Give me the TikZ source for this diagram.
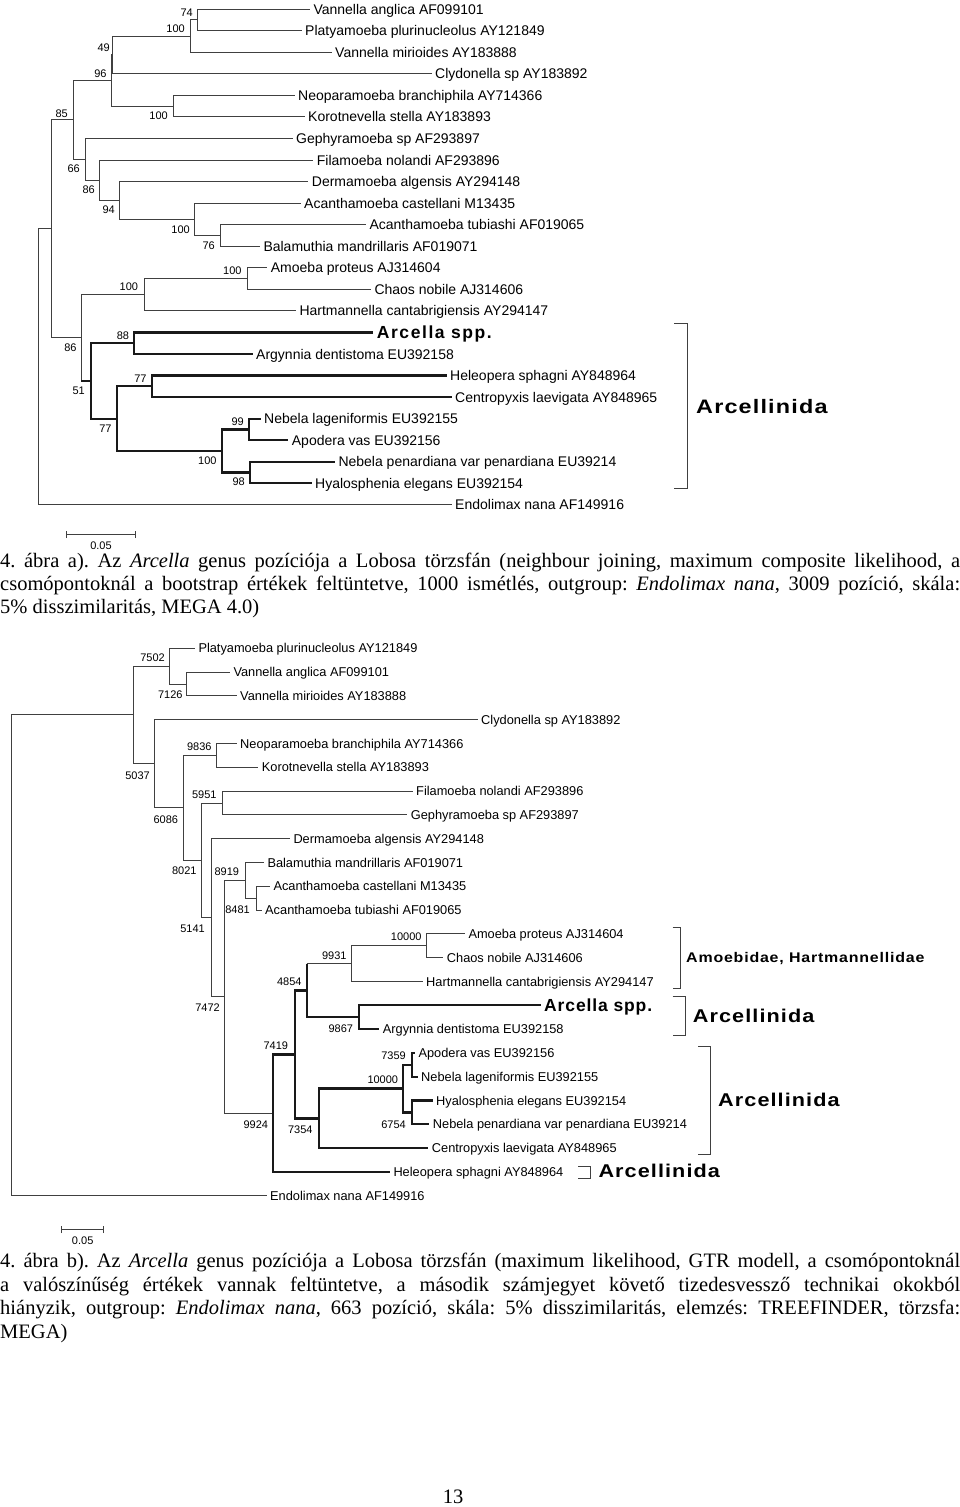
\documentclass[tikz,border=0pt]{standalone}
\usepackage{graphicx}
\usepackage{fontspec}
\setmainfont{Liberation Serif}
\newfontfamily\arialf{Liberation Sans}
\newcommand{\bflab}[3]{{\arialf\bfseries\fontsize{#1}{#1}\selectfont\addfontfeature{LetterSpace=#2}#3}}
\newcommand{\widelab}[4]{\scalebox{#4}[1]{\bflab{#1}{#2}{#3}}}
\frenchspacing
\begin{document}
\begin{tikzpicture}[x=1pt,y=-1pt,
  tline/.style={line width=1pt, draw=black!75},
  bline/.style={line width=2.3pt, draw=black!90},
  tipA/.style={anchor=west, inner xsep=3.5pt, inner ysep=0pt, xshift=-3.5pt, font=\arialf\fontsize{14}{16}\selectfont, text height=10pt, text depth=0pt},
  tipB/.style={anchor=west, inner xsep=3.5pt, inner ysep=0pt, xshift=-3.5pt, font=\arialf\fontsize{12.8}{15}\selectfont, text height=9.2pt, text depth=0pt},
  bsA/.style={anchor=east, inner sep=0pt, font=\arialf\fontsize{11}{13}\selectfont, text height=8pt, text depth=0pt},
  bsB/.style={anchor=east, inner sep=0pt, font=\arialf\fontsize{11}{13}\selectfont, text height=8pt, text depth=0pt},
  grp/.style={anchor=west, inner sep=0pt, text depth=0pt},
  capline/.style={anchor=base west, inner sep=0pt, font=\fontsize{20.5}{23.5}\selectfont}
]
\useasboundingbox (0,0) rectangle (960,1507);
\fill[white] (0,0) rectangle (960,1507);

% ================= TOP TREE =================
\coordinate (tR) at (38,366.88);
\coordinate (tX) at (51,228.91);
\coordinate (t85) at (73.3,119.98);
\coordinate (t96) at (111,80.58);
\coordinate (t49) at (112.3,54.99);
\coordinate (t100a) at (190,36.14);
\coordinate (t74) at (197.3,19.98);
\coordinate (tNK) at (173.3,106.18);
\coordinate (t66) at (85,159.38);
\coordinate (t86a) at (99.3,180.25);
\coordinate (t94) at (119.3,200.46);
\coordinate (t100b) at (194,219.31);
\coordinate (t76) at (220,235.48);
\coordinate (t86b) at (81,337.84);
\coordinate (tACH) at (144,294.74);
\coordinate (tAC) at (247.7,278.58);
\coordinate (t51) at (90.7,380.94);
\coordinate (t88) at (134.3,343.23);
\coordinate (t77b) at (116.7,418.65);
\coordinate (t77a) at (151.7,386.33);
\coordinate (t100c) at (221.7,450.98);
\coordinate (t99) at (249.3,429.43);
\coordinate (t98) at (250,472.53);

\node[tipA] (VA) at (313.3,9.2) {Vannella anglica AF099101};
\node[tipA] (PL) at (305,30.75) {Platyamoeba plurinucleolus AY121849};
\node[tipA] (VM) at (335,52.3) {Vannella mirioides AY183888};
\node[tipA] (CL) at (435,73.85) {Clydonella sp AY183892};
\node[tipA] (NE) at (298,95.4) {Neoparamoeba branchiphila AY714366};
\node[tipA] (KO) at (308,116.95) {Korotnevella stella AY183893};
\node[tipA] (GE) at (296,138.5) {Gephyramoeba sp AF293897};
\node[tipA] (FI) at (316.7,160.05) {Filamoeba nolandi AF293896};
\node[tipA] (DE) at (311.7,181.6) {Dermamoeba algensis AY294148};
\node[tipA] (AC) at (304,203.15) {Acanthamoeba castellani M13435};
\node[tipA] (AT) at (369.3,224.7) {Acanthamoeba tubiashi AF019065};
\node[tipA] (BA) at (263.3,246.25) {Balamuthia mandrillaris AF019071};
\node[tipA] (AP) at (270.7,267.8) {Amoeba proteus AJ314604};
\node[tipA] (CH) at (374.3,289.35) {Chaos nobile AJ314606};
\node[tipA] (HA) at (299.3,310.9) {Hartmannella cantabrigiensis AY294147};
\node[tipA, text height=12.6pt] (AR) at (376.7,332.45) {\bflab{17.5}{9}{Arcella spp.}};
\node[tipA] (AG) at (256,354) {Argynnia dentistoma EU392158};
\node[tipA] (HE) at (450,375.55) {Heleopera sphagni AY848964};
\node[tipA] (CE) at (455,397.1) {Centropyxis laevigata AY848965};
\node[tipA] (NL) at (264,418.65) {Nebela lageniformis EU392155};
\node[tipA] (AV) at (291.7,440.2) {Apodera vas EU392156};
\node[tipA] (NP) at (338.3,461.75) {Nebela penardiana var penardiana EU39214};
\node[tipA] (HY) at (315,483.3) {Hyalosphenia elegans EU392154};
\node[tipA] (EN) at (455,504.85) {Endolimax nana AF149916};

\draw[tline] (tR) |- (tX);
\draw[tline] (tR) |- (EN);
\draw[tline] (tX) |- (t85);
\draw[tline] (tX) |- (t86b);
\draw[tline] (t85) |- (t96);
\draw[tline] (t85) |- (t66);
\draw[tline] (t96) |- (t49);
\draw[tline] (t96) |- (tNK);
\draw[tline] (t49) |- (t100a);
\draw[tline] (t49) |- (CL);
\draw[tline] (t100a) |- (t74);
\draw[tline] (t100a) |- (VM);
\draw[tline] (t74) |- (VA);
\draw[tline] (t74) |- (PL);
\draw[tline] (tNK) |- (NE);
\draw[tline] (tNK) |- (KO);
\draw[tline] (t66) |- (GE);
\draw[tline] (t66) |- (t86a);
\draw[tline] (t86a) |- (FI);
\draw[tline] (t86a) |- (t94);
\draw[tline] (t94) |- (DE);
\draw[tline] (t94) |- (t100b);
\draw[tline] (t100b) |- (AC);
\draw[tline] (t100b) |- (t76);
\draw[tline] (t76) |- (AT);
\draw[tline] (t76) |- (BA);
\draw[tline] (t86b) |- (tACH);
\draw[tline] (tACH) |- (tAC);
\draw[tline] (tACH) |- (HA);
\draw[tline] (tAC) |- (AP);
\draw[tline] (tAC) |- (CH);
\draw[tline] (t86b) |- (t51);
\draw[bline] (t86b |- t51) -- (t51);
\draw[bline] (t51) |- (t88);
\draw[bline] (t51) |- (t77b);
\draw[bline] (t88) |- (AR);
\draw[bline] (t88) |- (AG);
\draw[bline] (t77b) |- (t77a);
\draw[bline] (t77b) |- (t100c);
\draw[bline] (t77a) |- (HE);
\draw[bline] (t77a) |- (CE);
\draw[bline] (t100c) |- (t99);
\draw[bline] (t100c) |- (t98);
\draw[bline] (t99) |- (NL);
\draw[bline] (t99) |- (AV);
\draw[bline] (t98) |- (NP);
\draw[bline] (t98) |- (HY);

\node[bsA] (l74) at (193,12.7) {74};
\node[bsA] (l100a) at (185,28) {100};
\node[bsA] (l49) at (110,47) {49};
\node[bsA] (l96) at (106.7,73) {96};
\node[bsA] (l100nk) at (168,115) {100};
\node[bsA] (l85) at (68,113) {85};
\node[bsA] (l66) at (80,168) {66};
\node[bsA] (l86a) at (95,189) {86};
\node[bsA] (l94) at (115,209) {94};
\node[bsA] (l100b) at (190,229) {100};
\node[bsA] (l76) at (215,245) {76};
\node[bsA] (l100ac) at (241.7,270.7) {100};
\node[bsA] (l100ach) at (138.3,286.7) {100};
\node[bsA] (l86b) at (76.7,347.7) {86};
\node[bsA] (l88) at (129.3,335) {88};
\node[bsA] (l51) at (85,390) {51};
\node[bsA] (l77a) at (146.7,378.3) {77};
\node[bsA] (l77b) at (111.7,428.3) {77};
\node[bsA] (l99) at (244,421) {99};
\node[bsA] (l100c) at (216.7,460) {100};
\node[bsA] (l98) at (245,481.7) {98};

\draw[tline] (674.3,323.3) -- (687.7,323.3) -- (687.7,488.3) -- (674.3,488.3);
\node[grp, text height=14pt] (g1) at (696,406) {\widelab{19.5}{5}{Arcellinida}{1.2}};

\coordinate (sa1) at (66,534.3);
\coordinate (sa2) at (135.7,534.3);
\draw[tline] (sa1) -- (sa2);
\draw[tline] ([yshift=-3.7pt]sa1) -- ([yshift=3.7pt]sa1);
\draw[tline] ([yshift=-3.7pt]sa2) -- ([yshift=3.7pt]sa2);
\node[bsA, anchor=center] (sal) at (101,545) {0.05};

\node[capline] (c1a) at (0,567.5) {\makebox[960pt][s]{4. ábra a). Az \textit{Arcella} genus pozíciója a Lobosa törzsfán (neighbour joining, maximum composite likelihood, a}};
\node[capline] (c1b) at (0,590.5) {\makebox[960pt][s]{csomópontoknál a bootstrap értékek feltüntetve, 1000 ismétlés, outgroup: \textit{Endolimax nana}, 3009 pozíció, skála:}};
\node[capline] (c1c) at (0,613.5) {5\% disszimilaritás, MEGA 4.0)};

% ================= BOTTOM TREE =================
\coordinate (bR) at (11.7,955.34);
\coordinate (bA) at (133.3,714.97);
\coordinate (b7502) at (169.3,666.15);
\coordinate (b7126) at (186.7,684.0);
\coordinate (bB) at (154,763.79);
\coordinate (bC) at (183.3,807.88);
\coordinate (bNK) at (216.7,755.4);
\coordinate (bD) at (201,860.36);
\coordinate (bFG) at (222.7,803.0);
\coordinate (bE) at (211,917.73);
\coordinate (bF) at (224,996.75);
\coordinate (bG) at (245,880.35);
\coordinate (bH) at (256.7,898.2);
\coordinate (bI) at (273.3,1113.15);
\coordinate (bJ) at (294.7,1054.39);
\coordinate (bK) at (306.7,990.43);
\coordinate (b9931) at (351.7,963.65);
\coordinate (b10k) at (426,945.8);
\coordinate (b9867) at (359.3,1017.2);
\coordinate (bL) at (318.7,1118.35);
\coordinate (bM) at (403.3,1088.6);
\coordinate (bN) at (412,1064.8);
\coordinate (bO) at (411.7,1112.4);

\node[tipB] (bPL) at (198.3,648.3) {Platyamoeba plurinucleolus AY121849};
\node[tipB] (bVA) at (233.3,672.1) {Vannella anglica AF099101};
\node[tipB] (bVM) at (240,695.9) {Vannella mirioides AY183888};
\node[tipB] (bCL) at (481,719.7) {Clydonella sp AY183892};
\node[tipB] (bNE) at (240,743.5) {Neoparamoeba branchiphila AY714366};
\node[tipB] (bKO) at (261.7,767.3) {Korotnevella stella AY183893};
\node[tipB] (bFI) at (416,791.1) {Filamoeba nolandi AF293896};
\node[tipB] (bGE) at (410.7,814.9) {Gephyramoeba sp AF293897};
\node[tipB] (bDE) at (293.3,838.7) {Dermamoeba algensis AY294148};
\node[tipB] (bBA) at (267.3,862.5) {Balamuthia mandrillaris AF019071};
\node[tipB] (bAC) at (273.3,886.3) {Acanthamoeba castellani M13435};
\node[tipB] (bAT) at (265,910.1) {Acanthamoeba tubiashi AF019065};
\node[tipB] (bAP) at (468.3,933.9) {Amoeba proteus AJ314604};
\node[tipB] (bCH) at (446.7,957.7) {Chaos nobile AJ314606};
\node[tipB] (bHA) at (426,981.5) {Hartmannella cantabrigiensis AY294147};
\node[tipB, text height=12.6pt] (bAR) at (544,1005.3) {\bflab{17.5}{5}{Arcella spp.}};
\node[tipB] (bAG) at (382.7,1029.1) {Argynnia dentistoma EU392158};
\node[tipB] (bAV) at (418.3,1052.9) {Apodera vas EU392156};
\node[tipB] (bNL) at (421,1076.7) {Nebela lageniformis EU392155};
\node[tipB] (bHY) at (436,1100.5) {Hyalosphenia elegans EU392154};
\node[tipB] (bNP) at (432.7,1124.3) {Nebela penardiana var penardiana EU39214};
\node[tipB] (bCE) at (431.7,1148.1) {Centropyxis laevigata AY848965};
\node[tipB] (bHE) at (393.3,1171.9) {Heleopera sphagni AY848964};
\node[tipB] (bEN) at (270,1195.7) {Endolimax nana AF149916};

\draw[tline] (bR) |- (bA);
\draw[tline] (bR) |- (bEN);
\draw[tline] (bA) |- (b7502);
\draw[tline] (bA) |- (bB);
\draw[tline] (b7502) |- (bPL);
\draw[tline] (b7502) |- (b7126);
\draw[tline] (b7126) |- (bVA);
\draw[tline] (b7126) |- (bVM);
\draw[tline] (bB) |- (bCL);
\draw[tline] (bB) |- (bC);
\draw[tline] (bC) |- (bNK);
\draw[tline] (bC) |- (bD);
\draw[tline] (bNK) |- (bNE);
\draw[tline] (bNK) |- (bKO);
\draw[tline] (bD) |- (bFG);
\draw[tline] (bD) |- (bE);
\draw[tline] (bFG) |- (bFI);
\draw[tline] (bFG) |- (bGE);
\draw[tline] (bE) |- (bDE);
\draw[tline] (bE) |- (bF);
\draw[tline] (bF) |- (bG);
\draw[tline] (bF) |- (bI);
\draw[tline] (bG) |- (bBA);
\draw[tline] (bG) |- (bH);
\draw[tline] (bH) |- (bAC);
\draw[tline] (bH) |- (bAT);
\draw[bline] (bK) -- (bK |- b9931);
\draw[tline] (bK |- b9931) -- (b9931);
\draw[tline] (b9931) |- (b10k);
\draw[tline] (b9931) |- (bHA);
\draw[tline] (b10k) |- (bAP);
\draw[tline] (b10k) |- (bCH);
\draw[bline] (bI) |- (bJ);
\draw[bline] (bI) |- (bHE);
\draw[bline] (bJ) |- (bK);
\draw[bline] (bJ) |- (bL);
\draw[bline] (bK) |- (b9867);
\draw[bline] (b9867) |- (bAR);
\draw[bline] (b9867) |- (bAG);
\draw[bline] (bL) |- (bM);
\draw[bline] (bL) |- (bCE);
\draw[bline] (bM) |- (bN);
\draw[bline] (bM) |- (bO);
\draw[bline] (bN) |- (bAV);
\draw[bline] (bN) |- (bNL);
\draw[bline] (bO) |- (bHY);
\draw[bline] (bO) |- (bNP);

\node[bsB] (m7502) at (165,657.7) {7502};
\node[bsB] (m7126) at (182.7,694.3) {7126};
\node[bsB] (m5037) at (150,775) {5037};
\node[bsB] (m9836) at (211.7,746.7) {9836};
\node[bsB] (m6086) at (178.3,819) {6086};
\node[bsB] (m5951) at (216.7,794.3) {5951};
\node[bsB] (m8021) at (196.7,870.7) {8021};
\node[bsB] (m8919) at (239.3,871.7) {8919};
\node[bsB] (m8481) at (250,909.3) {8481};
\node[bsB] (m5141) at (205,928.3) {5141};
\node[bsB] (m7472) at (220,1007.3) {7472};
\node[bsB] (m9924) at (268.3,1124) {9924};
\node[bsB] (m7419) at (288.3,1045) {7419};
\node[bsB] (m4854) at (301.7,981) {4854};
\node[bsB] (m9931) at (346.7,955) {9931};
\node[bsB] (m10ka) at (421.7,936.7) {10000};
\node[bsB] (m9867) at (353.3,1028.3) {9867};
\node[bsB] (m7354) at (312.7,1129.3) {7354};
\node[bsB] (m10kb) at (398.3,1079.3) {10000};
\node[bsB] (m7359) at (406,1055) {7359};
\node[bsB] (m6754) at (406,1124) {6754};

\draw[tline] (672.7,927.3) -- (680.7,927.3) -- (680.7,988.3) -- (672.7,988.3);
\node[grp, text height=10pt] (g2) at (686,957.3) {\widelab{14}{5}{Amoebidae, Hartmannellidae}{1.14}};
\draw[tline] (672.7,996) -- (685,996) -- (685,1035.7) -- (672.7,1035.7);
\node[grp, text height=13.3pt] (g3) at (692.7,1015.7) {\widelab{18.5}{5}{Arcellinida}{1.17}};
\draw[tline] (698.3,1046) -- (710.7,1046) -- (710.7,1154.3) -- (698.3,1154.3);
\node[grp, text height=13.3pt] (g4) at (718,1100) {\widelab{18.5}{5}{Arcellinida}{1.17}};
\draw[tline] (578,1166) -- (590,1166) -- (590,1178) -- (578,1178);
\node[grp, text height=13.3pt] (g5) at (598.3,1170.7) {\widelab{18.5}{5}{Arcellinida}{1.17}};

\coordinate (sb1) at (61.7,1229.3);
\coordinate (sb2) at (103.3,1229.3);
\draw[tline] (sb1) -- (sb2);
\draw[tline] ([yshift=-3.7pt]sb1) -- ([yshift=3.7pt]sb1);
\draw[tline] ([yshift=-3.7pt]sb2) -- ([yshift=3.7pt]sb2);
\node[bsB, anchor=center] (sbl) at (82.7,1240.7) {0.05};

\node[capline] (c2a) at (0,1267.5) {\makebox[960pt][s]{4. ábra b). Az \textit{Arcella} genus pozíciója a Lobosa törzsfán (maximum likelihood, GTR modell, a csomópontoknál}};
\node[capline] (c2b) at (0,1291) {\makebox[960pt][s]{a valószínűség értékek vannak feltüntetve, a második számjegyet követő tizedesvessző technikai okokból}};
\node[capline] (c2c) at (0,1314.5) {\makebox[960pt][s]{hiányzik, outgroup: \textit{Endolimax nana}, 663 pozíció, skála: 5\% disszimilaritás, elemzés: TREEFINDER, törzsfa:}};
\node[capline] (c2d) at (0,1338.5) {MEGA)};

\node[anchor=base, inner sep=0pt, font=\fontsize{20.5}{23}\selectfont] (pg) at (453,1503.5) {13};
\end{tikzpicture}
\end{document}
